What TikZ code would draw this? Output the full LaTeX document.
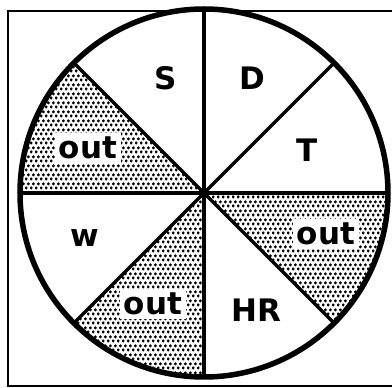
\documentclass[tikz,border=0pt]{standalone}
\usepackage{fontspec}
\setsansfont{DejaVu Sans}
\usetikzlibrary{patterns}
\definecolor{inkcol}{RGB}{0,0,0}
\pgfdeclarepatternformonly{stipple}{\pgfpointorigin}{\pgfpoint{5.2pt}{9pt}}{\pgfpoint{5.2pt}{9pt}}{%
  \pgfpathcircle{\pgfpoint{1.3pt}{2.25pt}}{1.85pt}%
  \pgfpathcircle{\pgfpoint{3.9pt}{6.75pt}}{1.85pt}%
  \pgfusepath{fill}%
}
\tikzset{
  framebox/.style={line width=2.6pt, draw=inkcol},
  rimline/.style={line width=5.5pt, draw=inkcol},
  spokeline/.style={line width=3.2pt, draw=inkcol, line cap=round},
  outsector/.style={pattern=stipple, pattern color=inkcol},
  seclabel/.style={
    font=\sffamily\bfseries\fontsize{31}{31}\selectfont,
    text=inkcol, inner sep=0pt
  },
  outlabel/.style={seclabel, fill=white, inner sep=4pt},
}

\begin{document}
\begin{tikzpicture}[x=1pt, y=1pt]
  \useasboundingbox (0,0) rectangle (392,388);
  \coordinate (O) at (204,195);

  % ── Frame ──
  \draw[framebox] (392,377) -- (8,377) -- (8,2) -- (392,2);

  % ── Shaded sectors ──
  \fill[outsector] (O) -- ++(135:184) arc[start angle=135, end angle=180, radius=184] -- cycle;
  \fill[outsector] (O) -- ++(225:184) arc[start angle=225, end angle=270, radius=184] -- cycle;
  \fill[outsector] (O) -- ++(315:184) arc[start angle=315, end angle=360, radius=184] -- cycle;

  % ── Spokes ──
  \foreach \ang in {0,45,...,315}
    \draw[spokeline] (O) -- ++(\ang:184);

  % ── Rim ──
  \draw[rimline] (O) circle[radius=184];

  % ── Labels ──
  \node[seclabel] (S)  at (166,310) {S};
  \node[seclabel] (D)  at (252,310) {D};
  \node[seclabel] (T)  at (307,238) {T};
  \node[seclabel] (W)  at (85,150)  {w};
  \node[seclabel] (HR) at (256,78)  {HR};
  \node[outlabel] (outUL) at (88,240)  {out};
  \node[outlabel] (outLB) at (153,84)  {out};
  \node[outlabel] (outRT) at (326,154) {out};

\end{tikzpicture}
\end{document}
